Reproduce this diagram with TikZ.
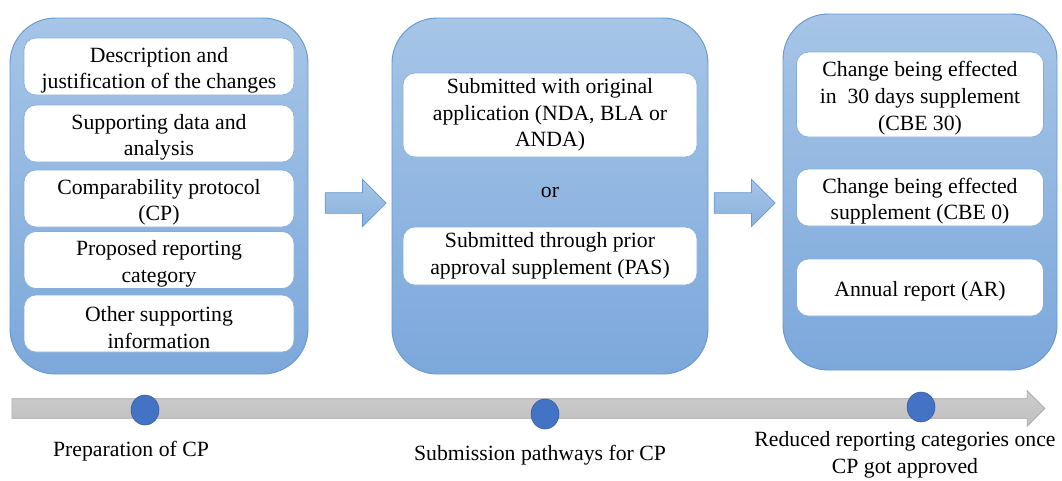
\documentclass[tikz,border=0pt]{standalone}
\usepackage{fontspec}
\setmainfont{Liberation Serif}
\usetikzlibrary{shapes.arrows,shapes.geometric}

\definecolor{panelTop}{RGB}{166,197,231}
\definecolor{panelBottom}{RGB}{124,168,219}
\definecolor{panelLine}{RGB}{104,152,209}
\definecolor{barGray}{RGB}{192,192,192}
\definecolor{barLine}{RGB}{166,166,166}
\definecolor{dotBlue}{RGB}{68,114,196}

\tikzset{
	panel/.style={draw=panelLine, line width=0.7pt, rounded corners=34pt, top color=panelTop, bottom color=panelBottom, inner sep=0pt},
	item/.style={draw=panelLine!80, line width=0.5pt, fill=white, rounded corners=9pt, align=center, inner sep=0pt, font=\fontsize{16.3}{20}\selectfont},
	flow/.style={single arrow, draw=panelLine, line width=0.5pt, top color=panelTop, bottom color=panelBottom!90, single arrow head extend=10pt, minimum height=45.75pt, inner sep=7.5pt, shape border rotate=0},
	dot/.style={ellipse, draw=dotBlue!80!black, line width=0.4pt, fill=dotBlue, minimum width=21pt, minimum height=22.5pt, inner sep=0pt},
	caption/.style={align=center, font=\fontsize{16.3}{20}\selectfont}
}

\begin{document}
\begin{tikzpicture}[x=0.75pt, y=-0.75pt]
		\useasboundingbox (0,0) rectangle (1062,480);
		
		%Panels
		\node[panel, minimum width=223.5pt, minimum height=267pt] (prep) at (159,196) {};
		\node[panel, minimum width=237pt, minimum height=267pt] (submit) at (550,196) {};
		\node[panel, minimum width=205.5pt, minimum height=267pt] (report) at (920,192) {};
		
		%Preparation of CP
		\node[item, minimum width=202.5pt, minimum height=42.75pt] (desc) at (159,66.5) {\rule{0pt}{17pt}Description and\\justification of the changes};
		\node[item, minimum width=202.5pt, minimum height=42.75pt] (data) at (159,133.5) {\rule{0pt}{17pt}Supporting data and\\analysis};
		\node[item, minimum width=202.5pt, minimum height=42.75pt] (cp) at (159,198.5) {\rule{0pt}{17pt}Comparability protocol\\(CP)};
		\node[item, minimum width=202.5pt, minimum height=42.75pt] (category) at (159,260) {\rule{0pt}{17pt}Proposed reporting\\category};
		\node[item, minimum width=202.5pt, minimum height=42.75pt] (other) at (159,323.5) {\rule{0pt}{17pt}Other supporting\\information};
		
		%Submission pathways
		\node[item, minimum width=220.5pt, minimum height=63pt] (original) at (550,115) {Submitted with original\\application (NDA, BLA or\\ANDA)};
		\node[caption] (or) at (550,192) {or};
		\node[item, minimum width=220.5pt, minimum height=43.5pt] (pas) at (550,256) {Submitted through prior\\approval supplement (PAS)};
		
		%Reduced reporting categories
		\node[item, minimum width=185.25pt, minimum height=63.75pt] (cbe30) at (920,94.5) {\rule{0pt}{17pt}Change being effected\\in\ \ 30 days supplement\\(CBE 30)};
		\node[item, minimum width=185.25pt, minimum height=42.75pt] (cbe0) at (920,197.5) {\rule{0pt}{17pt}Change being effected\\supplement (CBE 0)};
		\node[item, minimum width=185.25pt, minimum height=42.75pt] (ar) at (920,287.5) {\rule{0pt}{17pt}Annual report (AR)};
		
		%Block arrows between panels
		\node[flow] (toSubmit) at (350.5,203) {};
		\node[flow] (toReport) at (739.5,203) {};
		
		%Timeline
		\node[single arrow, draw=barLine, line width=0.5pt, top color=barGray!80, bottom color=barGray, minimum height=774.75pt, inner sep=7.1pt, single arrow head extend=6pt] (timeline) at (523.5,408.5) {};
		
		\node[dot] (stepPrep) at (145,410) {};
		\node[dot] (stepSubmit) at (545,414) {};
		\node[dot] (stepReport) at (921,407) {};
		
		\node[caption] (capPrep) at (131,451) {Preparation of CP};
		\node[caption] (capSubmit) at (540,455) {Submission pathways for CP};
		\node[caption] (capReport) at (905,455) {Reduced reporting categories once\\CP got approved};
		
\end{tikzpicture}
\end{document}
